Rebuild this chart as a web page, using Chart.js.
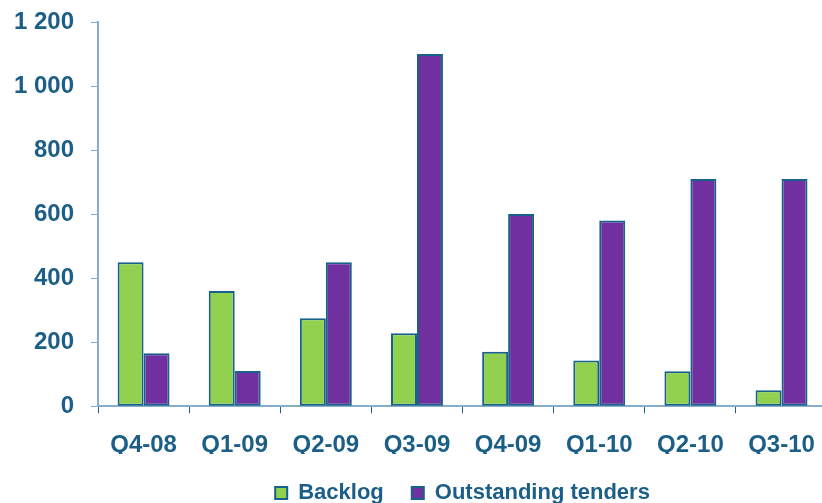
<!DOCTYPE html>
<html>
<head>
<meta charset="utf-8">
<script src="https://cdn.jsdelivr.net/npm/chart.js@4/dist/chart.umd.min.js"></script>
<style>
html,body{margin:0;padding:0;background:#fff;overflow:hidden;width:822px;height:503px;}
#c{display:block;}
</style>
</head>
<body>
<canvas id="c" width="833" height="503"></canvas>
<script>
const categories = ["Q4-08","Q1-09","Q2-09","Q3-09","Q4-09","Q1-10","Q2-10","Q3-10"];
const backlog = [450, 360, 275, 228, 170, 143, 109, 50];
const tenders = [165, 110, 450, 1100, 600, 580, 710, 710];
const seriesNames = ["Backlog", "Outstanding tenders"];
const yTicks = [0, 200, 400, 600, 800, 1000, 1200];

const textColor = '#1B5E87';
const axisColor = '#86AECA';
const borderCol = '#17618A';

function fmt(v){ return String(v).replace(/\B(?=(\d{3})+(?!\d))/g, ' '); }

new Chart(document.getElementById('c'), {
  type: 'bar',
  data: {
    labels: categories,
    datasets: [
      {label: seriesNames[0], data: backlog, backgroundColor: '#92D050', borderColor: borderCol, borderWidth: 2, borderSkipped: false},
      {label: seriesNames[1], data: tenders, backgroundColor: '#7030A0', borderColor: borderCol, borderWidth: 2, borderSkipped: false}
    ]
  },
  options: {
    responsive: false,
    animation: false,
    devicePixelRatio: 1,
    layout: {padding: {top: 22, right: 2, left: 0, bottom: -11}},
    datasets: {bar: {categoryPercentage: 0.57, barPercentage: 1.0}},
    plugins: {
      tooltip: {enabled: false},
      legend: {
        position: 'bottom',
        fullSize: false,
        labels: {
          boxWidth: 12, boxHeight: 12, padding: 28,
          color: textColor,
          font: {family: 'Liberation Sans, Arial, sans-serif', size: 22, weight: 'bold'}
        }
      }
    },
    scales: {
      x: {
        afterFit: function(s){ s.height -= 24; },
        grid: {display: true, drawOnChartArea: false, drawTicks: true, tickLength: 7, color: textColor, offset: true},
        border: {display: true, color: axisColor, width: 2},
        ticks: {color: textColor, padding: 18, font: {family: 'Liberation Sans, Arial, sans-serif', size: 24, weight: 'bold'}, maxRotation: 0, autoSkip: false}
      },
      y: {
        min: 0, max: 1200,
        afterFit: function(s){ s.width = 98; s.paddingTop = 0; s.paddingBottom = 0; },
        afterBuildTicks: function(s){ s.ticks = yTicks.map(v => ({value: v})); },
        grid: {display: true, drawOnChartArea: false, drawTicks: true, tickLength: 7, color: axisColor},
        border: {display: true, color: axisColor, width: 2},
        ticks: {color: textColor, padding: 17, callback: v => fmt(v), font: {family: 'Liberation Sans, Arial, sans-serif', size: 24, weight: 'bold'}}
      }
    }
  }
});
</script>
</body>
</html>
